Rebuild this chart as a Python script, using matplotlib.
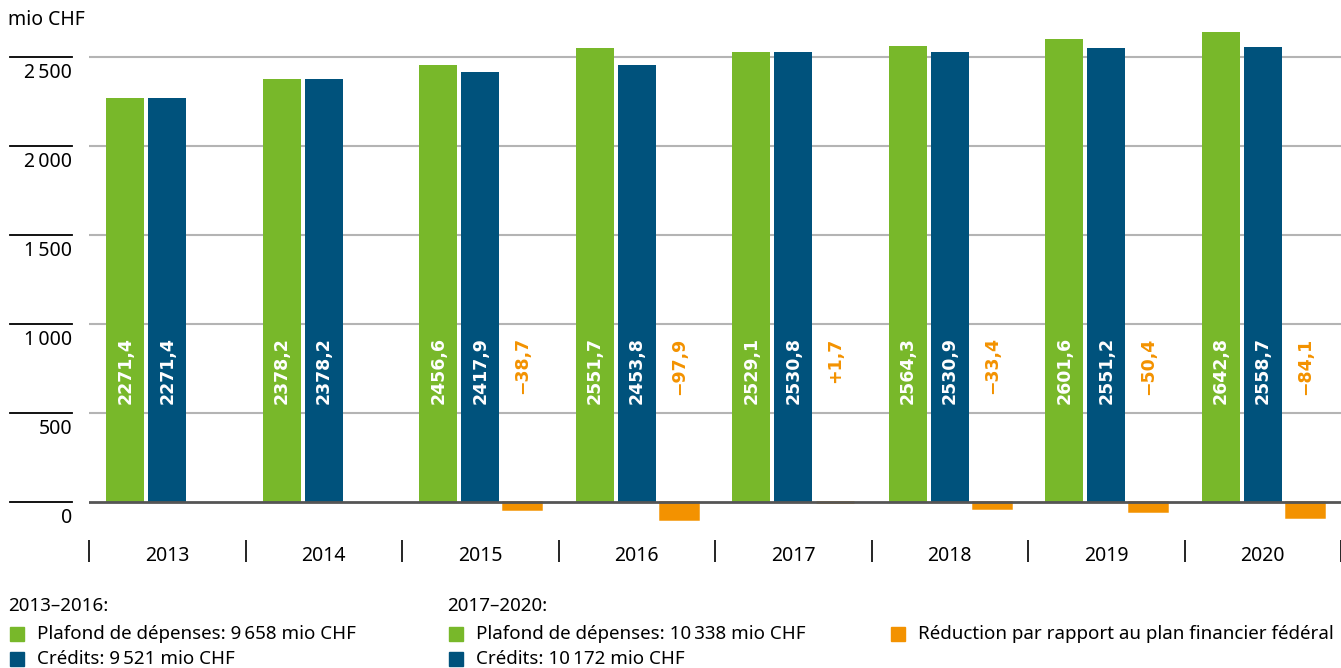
import numpy as np
import matplotlib
matplotlib.use('Agg')
import matplotlib.pyplot as plt
from matplotlib import transforms
from matplotlib.patches import Rectangle

plt.rcParams['font.family'] = ['Noto Sans', 'DejaVu Sans']

years = ['2013', '2014', '2015', '2016', '2017', '2018', '2019', '2020']
plafond = [2271.4, 2378.2, 2456.6, 2551.7, 2529.1, 2564.3, 2601.6, 2642.8]
credits = [2271.4, 2378.2, 2417.9, 2453.8, 2530.8, 2530.9, 2551.2, 2558.7]
reduction = [np.nan, np.nan, -38.7, -97.9, 1.7, -33.4, -50.4, -84.1]
yticks = [0, 500, 1000, 1500, 2000, 2500]

GREEN = '#78b82a'
BLUE = '#00527c'
ORANGE = '#f39200'

W, H = 1341, 668


def fx(px):
    return px / W


def fy(py):
    return 1 - py / H


def fmt(v, sign=False):
    s = f'{v:+.1f}' if sign else f'{v:.1f}'
    return s.replace('.', ',').replace('-', '\u2212')


def fmt_tick(v):
    return f'{v:,}'.replace(',', '\u2009')


fig = plt.figure(figsize=(W / 100, H / 100), dpi=100)
ax = fig.add_axes([fx(89), fy(540), 1 - fx(89), fy(25) - fy(540)])

x = np.arange(len(years))
bw = 0.243
off = 0.268
ax.bar(x - off, plafond, bw, color=GREEN, zorder=2)
ax.bar(x, credits, bw, color=BLUE, zorder=2)
red = np.array(reduction)
ax.bar(x + off, red, bw, color=ORANGE, edgecolor=ORANGE, linewidth=1.8, zorder=2)

# value labels inside bars
lbl = dict(rotation=90, ha='center', va='top', fontsize=12.5, fontweight='bold',
           family='DejaVu Sans', zorder=4)
for i in range(len(years)):
    ax.text(x[i] - off, 925, fmt(plafond[i]), color='white', **lbl)
    ax.text(x[i], 925, fmt(credits[i]), color='white', **lbl)
    if not np.isnan(red[i]):
        ax.text(x[i] + off, 925, fmt(red[i], sign=True), color=ORANGE, **lbl)

ax.set_xlim(-0.5, len(years) - 0.5)
ax.set_ylim(-213.5, 2680)

for s in ax.spines.values():
    s.set_visible(False)

# gridlines
ax.set_yticks(yticks)
ax.tick_params(axis='y', left=False, labelleft=False)
for v in yticks[1:]:
    ax.axhline(v, color='#b4b4b4', linewidth=1.5, zorder=1)
ax.axhline(0, color='#555555', linewidth=2, zorder=3)

# short black lines and labels on the left
trans = transforms.blended_transform_factory(ax.transAxes, ax.transData)
lab_trans = trans + transforms.ScaledTranslation(0, -6 / 100, fig.dpi_scale_trans)
x0 = (10 - 89) / (W - 89)
x1 = (72 - 89) / (W - 89)
for v in yticks:
    ax.plot([x0, x1], [v, v], color='black', linewidth=1.3, transform=trans, clip_on=False)
    ax.text(x1, v, fmt_tick(v), ha='right', va='top', fontsize=14, transform=lab_trans)

# x axis: year labels and separators
ax.set_xticks(x, years)
ax.set_xticks(np.arange(len(years) + 1) - 0.5, minor=True)
ax.tick_params(axis='x', which='major', length=0, pad=4, labelsize=14)
ax.tick_params(axis='x', which='minor', length=16, width=1.2, color='black', direction='out')

fig.text(fx(8), fy(20), 'mio CHF', ha='left', va='center', fontsize=14)

# legend
fig.text(fx(8), fy(606), '2013\u20132016:', ha='left', va='center', fontsize=13.5)
fig.text(fx(447), fy(606), '2017\u20132020:', ha='left', va='center', fontsize=13.5)
items = [
    (10, 634, GREEN, 'Plafond de dépenses: 9\u2009658 mio CHF'),
    (10, 659, BLUE, 'Crédits: 9\u2009521 mio CHF'),
    (449, 634, GREEN, 'Plafond de dépenses: 10\u2009338 mio CHF'),
    (449, 659, BLUE, 'Crédits: 10\u2009172 mio CHF'),
    (891, 634, ORANGE, 'Réduction par rapport au plan financier fédéral'),
]
for px, py, c, label in items:
    fig.add_artist(Rectangle((fx(px), fy(py + 7)), 14 / W, 14 / H, color=c,
                             transform=fig.transFigure))
    fig.text(fx(px + 27), fy(py), label, ha='left', va='center', fontsize=13.5)

fig.savefig('out.png', dpi=100)
